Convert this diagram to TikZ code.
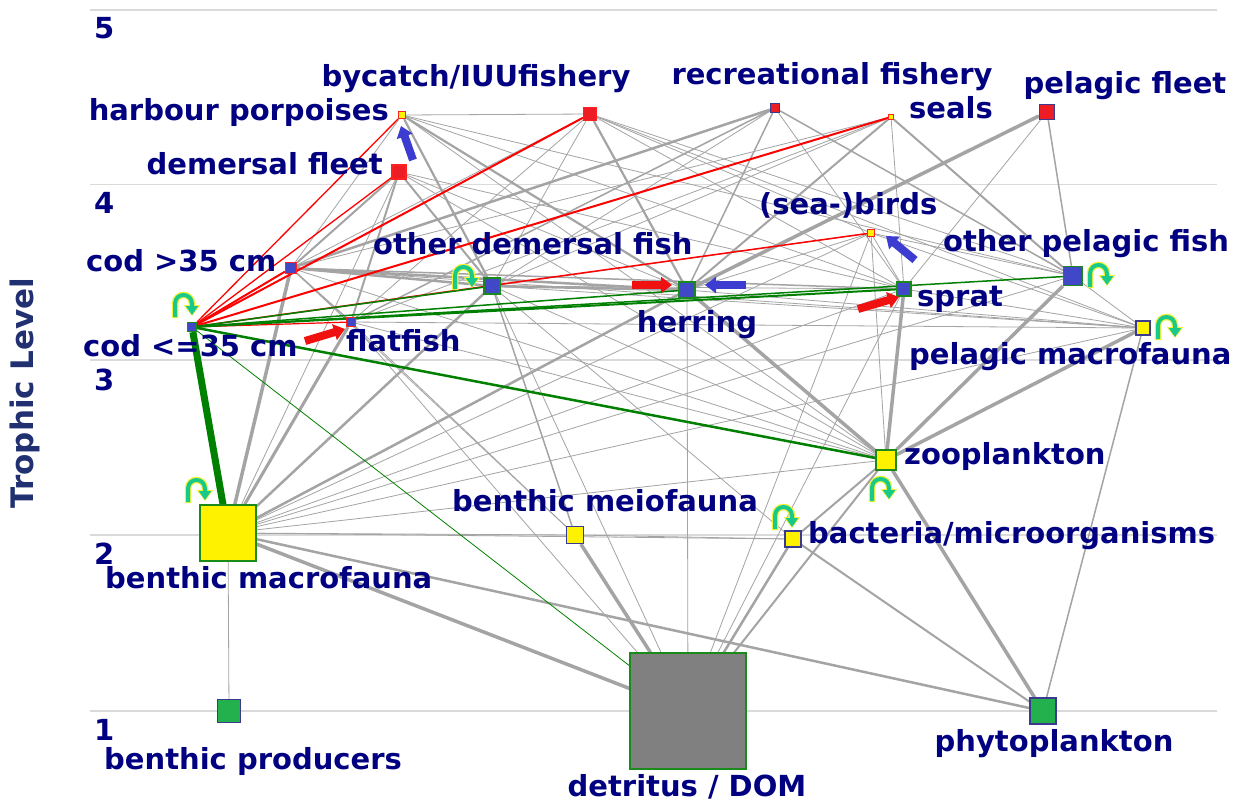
\documentclass[tikz,border=0pt]{standalone}
\usepackage{fontspec}
\setmainfont{DejaVu Sans}
\usetikzlibrary{arrows.meta}
\pgfdeclarelayer{bgl}
\pgfdeclarelayer{gridl}
\pgfdeclarelayer{edgel}
\pgfsetlayers{bgl,gridl,edgel,main}
\definecolor{navy}{HTML}{000080}
\definecolor{axisc}{HTML}{203070}
\definecolor{eg}{HTML}{A4A4A4}
\definecolor{gridc}{HTML}{DADADA}
\definecolor{nblue}{HTML}{4048C8}
\definecolor{nred}{HTML}{EE1C25}
\definecolor{nyel}{HTML}{FFF200}
\definecolor{ngreen}{HTML}{22B14C}
\definecolor{ngray}{HTML}{808080}
\definecolor{bgreen}{HTML}{1A8A1A}
\definecolor{bblue}{HTML}{3A3A90}
\definecolor{bred}{HTML}{FF2020}
\definecolor{ered}{HTML}{FF0000}
\definecolor{egreen}{HTML}{008000}
\definecolor{loopc}{HTML}{19C98A}
\definecolor{loopo}{HTML}{F2F23A}
\definecolor{farrowr}{HTML}{F01010}
\definecolor{farrowb}{HTML}{3C3CD0}
\tikzset{
  sq/.style={rectangle, draw, inner sep=0pt, minimum size=#1, line width=1.2pt},
  lbl/.style={text=navy, font=\fontsize{29}{33}\selectfont\bfseries, inner sep=0pt, text height=21pt, text depth=6pt},
  axl/.style={text=navy, font=\fontsize{29}{33}\selectfont\bfseries, inner sep=0pt, anchor=west},
  e/.style={draw=eg, line width=#1},
  er/.style={draw=ered, line width=#1},
  eG/.style={draw=egreen, line width=#1},
  gridline/.style={draw=gridc, line width=1.5pt},
  fatr/.style={draw=farrowr, line width=8pt, -{Triangle[length=11pt,width=16pt]}},
  fatb/.style={draw=farrowb, line width=8pt, -{Triangle[length=11pt,width=16pt]}},
  loopout/.style={draw=loopo, line width=6.5pt, -{Triangle[length=11pt,width=16pt]}},
  loopin/.style={draw=loopc, line width=4pt, -{Triangle[length=9pt,width=12pt]}},
}
\newcommand\myloop[2]{%
  \draw[loopout] ({#1+3},{#2+25}) -- ({#1+3},{#2+11}) .. controls ({#1+3},{#2-1}) and ({#1+20},{#2-1}) .. ({#1+20},{#2+11}) -- ({#1+20},{#2+23});
  \draw[loopin] ({#1+3},{#2+24}) -- ({#1+3},{#2+11}) .. controls ({#1+3},{#2-1}) and ({#1+20},{#2-1}) .. ({#1+20},{#2+11}) -- ({#1+20},{#2+22});
}
\begin{document}
\begin{tikzpicture}[x=1pt,y=-1pt]
\begin{pgfonlayer}{bgl}
\fill[white] (0,0) rectangle (1241,807);
\end{pgfonlayer}
\useasboundingbox (0,0) rectangle (1241,807);
% grid
\begin{pgfonlayer}{gridl}
\foreach \yy in {10,184.5,360,535,711} \draw[gridline] (90,\yy) -- (1217,\yy);
\end{pgfonlayer}
% axis labels
\node[axl] (t5) at (94,28) {5};
\node[axl] (t4) at (94,203) {4};
\node[axl] (t3) at (94,380) {3};
\node[axl] (t2) at (94,554) {2};
\node[axl] (t1) at (94,730) {1};
\node[text=axisc, font=\fontsize{31}{35}\selectfont\bfseries, rotate=90, inner sep=0pt] (ylab) at (25,393) {Trophic Level};
% nodes
\node[sq=7, fill=nyel, draw=bred] (pp) at (402,115) {};
\node[sq=13, fill=nred, draw=bred] (bc) at (590,114) {};
\node[sq=9, fill=nred, draw=bblue] (rf) at (775,108) {};
\node[sq=5, fill=nyel, draw=bred, line width=0.8pt] (se) at (891,117) {};
\node[sq=15, fill=nred, draw=bblue] (pf) at (1047,112) {};
\node[sq=14, fill=nred, draw=bred] (df) at (399,172) {};
\node[sq=11, fill=nblue, draw=bred] (cb) at (291,268) {};
\node[sq=9, fill=nblue, draw=bgreen] (cs) at (192,327) {};
\node[sq=9, fill=nblue, draw=bred] (ff) at (351,322) {};
\node[sq=16, fill=nblue, draw=bgreen] (od) at (492,286) {};
\node[sq=16, fill=nblue, draw=bgreen] (he) at (687,290) {};
\node[sq=14, fill=nblue, draw=bgreen] (sp) at (904,289) {};
\node[sq=7, fill=nyel, draw=bred] (bi) at (871,233) {};
\node[sq=19, fill=nblue, draw=bgreen] (op) at (1073,276) {};
\node[sq=14, fill=nyel, draw=bblue] (pm) at (1143,328) {};
\node[sq=20, fill=nyel, draw=bgreen] (zo) at (886,460) {};
\node[sq=16, fill=nyel, draw=bblue] (ba) at (793,539) {};
\node[sq=17, fill=nyel, draw=bblue] (me) at (575,535) {};
\node[sq=56, fill=nyel, draw=bgreen] (bm) at (228,533) {};
\node[sq=23, fill=ngreen, draw=bblue] (bp) at (229,711) {};
\node[sq=116, fill=ngray, draw=bgreen] (de) at (688,711) {};
\node[sq=26, fill=ngreen, draw=bblue] (ph) at (1043,711) {};
% edges
\begin{pgfonlayer}{edgel}
\draw[e=0.8] (pp) -- (bc);
\draw[e=0.8] (pp) -- (cb);
\draw[e=2.2] (pp) -- (od);
\draw[e=2.2] (pp) -- (he);
\draw[e=0.8] (pp) -- (op);
\draw[e=0.8] (pp) -- (sp);
\draw[e=0.8] (pp) -- (zo);
\draw[e=2.2] (bc) -- (he);
\draw[e=0.8] (bc) -- (od);
\draw[e=0.8] (bc) -- (cb);
\draw[e=0.8] (bc) -- (sp);
\draw[e=0.8] (bc) -- (op);
\draw[e=0.8] (bc) -- (bi);
\draw[e=0.8] (bc) -- (ff);
\draw[e=0.8] (bc) -- (pm);
\draw[e=2.5] (rf) -- (cb);
\draw[e=1.5] (rf) -- (he);
\draw[e=1.5] (rf) -- (op);
\draw[e=1.5] (rf) -- (ff);
\draw[e=0.8] (rf) -- (od);
\draw[e=0.8] (rf) -- (sp);
\draw[e=2] (se) -- (he);
\draw[e=0.8] (se) -- (sp);
\draw[e=2] (se) -- (op);
\draw[e=0.8] (se) -- (od);
\draw[e=0.8] (se) -- (ff);
\draw[e=0.8] (se) -- (cb);
\draw[e=2] (df) -- (cb);
\draw[e=2] (df) -- (ff);
\draw[e=2] (df) -- (od);
\draw[e=0.8] (df) -- (he);
\draw[e=0.8] (df) -- (bm);
\draw[e=0.8] (df) -- (sp);
\draw[e=0.8] (df) -- (zo);
\draw[e=3.5] (pf) -- (he);
\draw[e=0.8] (pf) -- (sp);
\draw[e=1.5] (pf) -- (op);
\draw[e=0.8] (bi) -- (he);
\draw[e=0.8] (bi) -- (sp);
\draw[e=0.8] (bi) -- (op);
\draw[e=0.8] (bi) -- (zo);
\draw[e=0.8] (bi) -- (od);
\draw[e=0.8] (bi) -- (de);
\draw[e=0.8] (bi) -- (pm);
\draw[e=3.5] (cb) -- (bm);
\draw[e=2.5] (cb) -- (he);
\draw[e=1.5] (cb) -- (sp);
\draw[e=2.5] (cb) -- (od);
\draw[e=1.5] (cb) -- (ff);
\draw[e=0.8] (cb) -- (zo);
\draw[e=0.8] (cb) -- (pm);
\draw[e=0.8] (cb) -- (me);
\draw[e=3] (ff) -- (bm);
\draw[e=0.8] (ff) -- (me);
\draw[e=0.8] (ff) -- (de);
\draw[e=0.8] (ff) -- (zo);
\draw[e=0.8] (ff) -- (pm);
\draw[e=2.5] (od) -- (bm);
\draw[e=1.5] (od) -- (me);
\draw[e=2.5] (od) -- (he);
\draw[e=0.8] (od) -- (sp);
\draw[e=0.8] (od) -- (zo);
\draw[e=0.8] (od) -- (pm);
\draw[e=0.8] (od) -- (de);
\draw[e=0.8] (od) -- (ba);
\draw[e=3.5] (he) -- (zo);
\draw[e=2.5] (he) -- (bm);
\draw[e=0.8] (he) -- (de);
\draw[e=0.8] (he) -- (pm);
\draw[e=3.5] (sp) -- (zo);
\draw[e=0.8] (sp) -- (de);
\draw[e=0.8] (sp) -- (pm);
\draw[e=3.5] (op) -- (zo);
\draw[e=0.8] (op) -- (pm);
\draw[e=0.8] (op) -- (bm);
\draw[e=3.5] (pm) -- (zo);
\draw[e=1.5] (pm) -- (ph);
\draw[e=3.5] (zo) -- (ph);
\draw[e=2] (zo) -- (de);
\draw[e=2] (zo) -- (ba);
\draw[e=0.8] (zo) -- (bm);
\draw[e=2.5] (ba) -- (de);
\draw[e=2] (ba) -- (ph);
\draw[e=0.8] (ba) -- (me);
\draw[e=3.5] (me) -- (de);
\draw[e=0.8] (me) -- (bm);
\draw[e=3.5] (bm) -- (de);
\draw[e=2.5] (bm) -- (ph);
\draw[e=0.8] (bm) -- (bp);
\draw[e=0.8] (bm) -- (sp);
\draw[e=0.8] (bm) -- (pm);
\draw[e=0.8] (bm) -- (ba);
\draw[e=0.8] (bm) -- (bi);
% red: predators of small cod
\draw[er=1.3] (cs) -- (pp);
\draw[er=1.3] (cs) -- (df);
\draw[er=2] (cs) -- (bc);
\draw[er=2] (cs) -- (se);
\draw[er=1.5] (cs) -- (bi);
\draw[er=2] (cs) -- (cb);
\draw[er=1.2] (cs) -- (ff);
% green: prey of small cod
\draw[eG=7] (cs) -- (bm);
\draw[eG=2.5] (cs) -- (zo);
\draw[eG=1.5] (cs) -- (od);
\draw[eG=1.5] (cs) -- (he);
\draw[eG=2] (cs) -- (sp);
\draw[eG=1.5] (cs) -- (op);
\draw[eG=0.8] (cs) -- (de);
\end{pgfonlayer}
% self loops
\myloop{172}{293}
\myloop{452}{265}
\myloop{185}{478}
\myloop{1087}{263}
\myloop{1155}{315}
\myloop{869}{477}
\myloop{772}{505}
% fat arrows
\coordinate (a1t) at (413,160); \coordinate (a1h) at (401,126);
\draw[fatb] (a1t) -- (a1h);
\coordinate (a2t) at (305,341); \coordinate (a2h) at (345,329);
\draw[fatr] (a2t) -- (a2h);
\coordinate (a3t) at (632,285); \coordinate (a3h) at (672,285);
\draw[fatr] (a3t) -- (a3h);
\coordinate (a4t) at (746,285); \coordinate (a4h) at (705,285);
\draw[fatb] (a4t) -- (a4h);
\coordinate (a5t) at (915,260); \coordinate (a5h) at (886,236);
\draw[fatb] (a5t) -- (a5h);
\coordinate (a6t) at (858,309); \coordinate (a6h) at (899,297);
\draw[fatr] (a6t) -- (a6h);
% labels
\node[lbl, anchor=east] (lpp) at (389,113) {harbour porpoises};
\node[lbl] (lbc) at (476,79) {bycatch/IUUfishery};
\node[lbl] (lrf) at (832,77) {recreational fishery};
\node[lbl, anchor=west] (lse) at (909,111) {seals};
\node[lbl] (lpf) at (1125,86) {pelagic fleet};
\node[lbl, anchor=east] (ldf) at (383,167) {demersal fleet};
\node[lbl, anchor=west] (lcb) at (86,264) {cod >35 cm};
\node[lbl, anchor=west] (lcs) at (83,349) {cod <=35 cm};
\node[lbl, anchor=west] (lff) at (346,344) {flatfish};
\node[lbl, anchor=west] (lod) at (373,247) {other demersal fish};
\node[lbl] (lhe) at (697,325) {herring};
\node[lbl, anchor=west] (lsp) at (917,299) {sprat};
\node[lbl, anchor=west] (lbi) at (759,207) {(sea-)birds};
\node[lbl, anchor=west] (lop) at (943,244) {other pelagic fish};
\node[lbl, anchor=west] (lpm) at (909,357) {pelagic macrofauna};
\node[lbl, anchor=west] (lzo) at (904,457) {zooplankton};
\node[lbl, anchor=west] (lba) at (808,536) {bacteria/microorganisms};
\node[lbl, anchor=west] (lme) at (452,504) {benthic meiofauna};
\node[lbl, anchor=west] (lbm) at (105,581) {benthic macrofauna};
\node[lbl, anchor=west] (lbp) at (104,762) {benthic producers};
\node[lbl] (lde) at (687,789) {detritus / DOM};
\node[lbl] (lph) at (1054,744) {phytoplankton};
\end{tikzpicture}
\end{document}
